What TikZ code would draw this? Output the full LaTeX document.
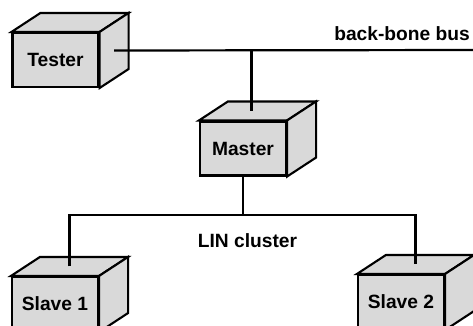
\documentclass[tikz,border=0pt]{standalone}
\usepackage{fontspec}
\setmainfont{Liberation Sans}
\usetikzlibrary{positioning}
\usetikzlibrary{calc}
\tikzstyle{box} = [draw,line width=2.1pt,fill=gray!30,minimum width=86pt,minimum height=54pt,inner sep=0pt,font=\fontsize{19.2}{22}\selectfont\bfseries]
\tikzstyle{face} = [draw,line width=2.1pt,fill=gray!30,line join=miter]
\tikzstyle{bus} = [draw,line width=2.2pt]
\tikzstyle{buslabel} = [inner sep=0pt,font=\fontsize{19.2}{22}\selectfont\bfseries]
% top and side of a box
\newcommand{\cubefaces}[1]{%
  \path[face] (#1.north west) -- ++(29,-19) -- ($(#1.north east)+(29,-19)$) -- (#1.north east) -- cycle;
  \path[face] (#1.north east) -- ++(29,-19) -- ($(#1.south east)+(29,-19)$) -- (#1.south east) -- cycle;
  \coordinate (#1top) at ($(#1.north)+(14.5,-9.5)$);
  \coordinate (#1side) at ($(#1.east)+(14.5,-9.5)$);
}
\begin{document}
\begin{tikzpicture}[x=1pt,y=-1pt]
 \useasboundingbox (0,0) rectangle (473,325);

 \node[box] (tester) at (55.5,60) {Tester};
 \node[box] (master) at (243,148.5) {Master};
 \node[box] (slaveA) at (55,304) {Slave 1};
 \node[box] (slaveB) at (401,302) {Slave 2};
 \cubefaces{tester}
 \cubefaces{master}
 \cubefaces{slaveA}
 \cubefaces{slaveB}

 % back-bone bus
 \coordinate (busend) at (473,50);
 \path[bus] (testerside) -- (busend);
 \coordinate (mastertap) at ($(mastertop)+(-6,0)$);
 \path[bus] (mastertap) -- (mastertap |- busend);
 \node[buslabel, anchor=base east] (bbtext) at ($(busend)+(-3,-10)$) {back-bone bus};

 % LIN cluster
 \coordinate (lin) at (0,215);
 \path[bus] (master.south) -- (master.south |- lin);
 \path[bus] (slaveAtop) -- (slaveAtop |- lin) -- (slaveBtop |- lin) -- (slaveBtop);
 \node[buslabel, anchor=base] (lintext) at (247.5,247) {LIN cluster};

\end{tikzpicture}
\end{document}
